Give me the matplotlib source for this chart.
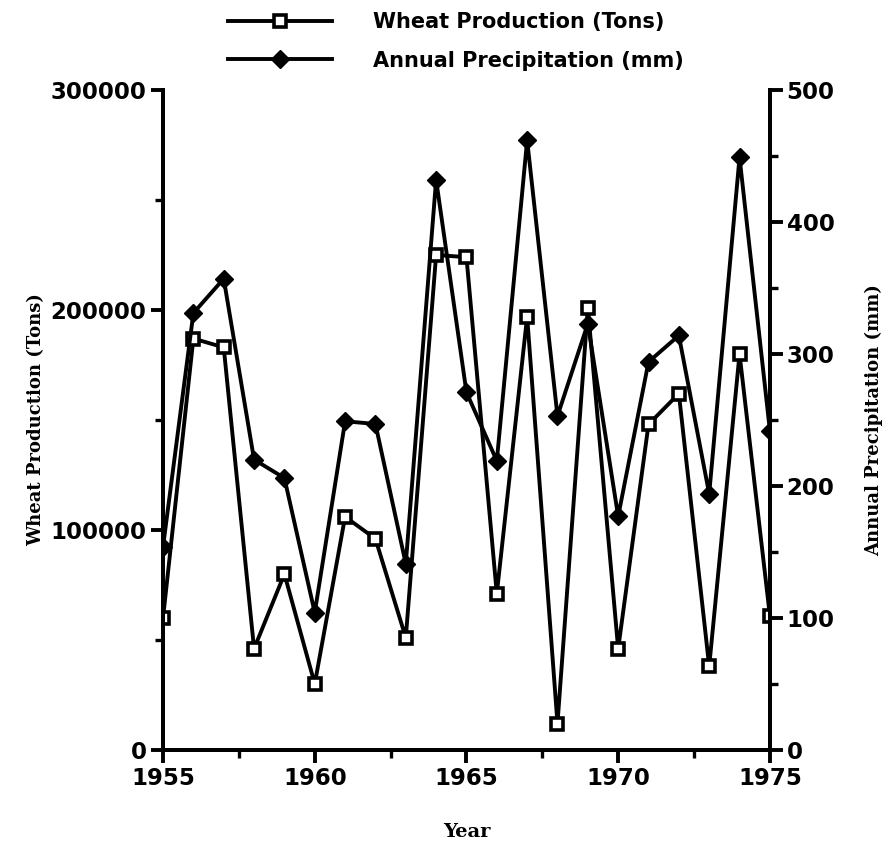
import matplotlib
matplotlib.use("Agg")
import matplotlib.pyplot as plt
from matplotlib.ticker import MultipleLocator

# 데이터
years = list(range(1955, 1976))
wheat = [60000, 187000, 183000, 46000, 80000, 30000, 106000, 96000, 51000, 225000,
         224000, 71000, 197000, 12000, 201000, 46000, 148000, 162000, 38000, 180000, 61000]
precip = [154, 331, 357, 220, 206, 104, 249, 247, 141, 432,
          271, 219, 462, 253, 323, 177, 294, 314, 194, 449, 242]

sans = "DejaVu Sans"
serif = "DejaVu Serif"

fig = plt.figure(figsize=(8.89, 8.48), dpi=100)
ax = fig.add_axes([0.1834, 0.1156, 0.6826, 0.7783])
ax2 = ax.twinx()

l1, = ax.plot(years, wheat, color="black", lw=2.8, marker="s", ms=9,
              mfc="white", mec="black", mew=2.6, label="Wheat Production (Tons)")
l2, = ax2.plot(years, precip, color="black", lw=2.8, marker="D", ms=9,
               mfc="black", mec="black", label="Annual Precipitation (mm)")

ax.set_xlim(1955, 1975)
ax.set_ylim(0, 300000)
ax2.set_ylim(0, 500)

ax.xaxis.set_major_locator(MultipleLocator(5))
ax.xaxis.set_minor_locator(MultipleLocator(2.5))
ax.yaxis.set_major_locator(MultipleLocator(100000))
ax.yaxis.set_minor_locator(MultipleLocator(50000))
ax2.yaxis.set_major_locator(MultipleLocator(100))
ax2.yaxis.set_minor_locator(MultipleLocator(50))

for a in (ax, ax2):
    a.spines["top"].set_visible(False)
    for s in ("left", "right", "bottom"):
        a.spines[s].set_linewidth(2.8)
    a.tick_params(which="major", direction="out", length=9, width=2.8,
                  labelsize=16.5, pad=3)
    a.tick_params(which="minor", direction="out", length=6, width=2.4)
    for lab in a.get_xticklabels() + a.get_yticklabels():
        lab.set_fontfamily(sans)
        lab.set_fontweight("bold")

ax.set_xlabel("Year", fontsize=14, fontweight="bold", family=serif, labelpad=24)
ax.set_ylabel("Wheat Production (Tons)", fontsize=13, fontweight="bold", family=serif, labelpad=4)
ax2.set_ylabel("Annual Precipitation (mm)", fontsize=13, fontweight="bold", family=serif, labelpad=22)

fig.legend(handles=[l1, l2], loc="upper left", bbox_to_anchor=(0.235, 1.008),
           frameon=False, handlelength=5.0, handletextpad=2.0, labelspacing=0.9,
           prop={"family": sans, "weight": "bold", "size": 15})

fig.savefig("out.png", dpi=100)
